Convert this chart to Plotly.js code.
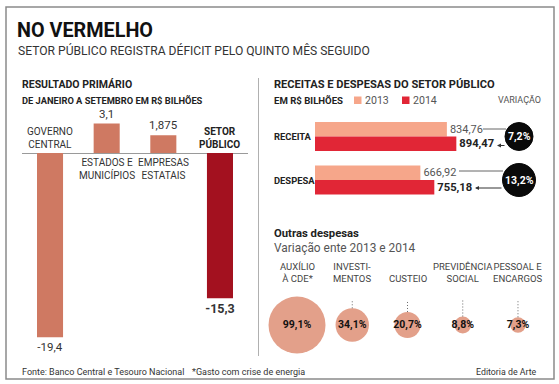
<!DOCTYPE html>
<html><head><meta charset="utf-8">
<script src="https://cdn.plot.ly/plotly-3.0.1.min.js"></script>
<style>html,body{margin:0;padding:0;background:#fff}#c{width:559px;height:384px}</style>
</head><body><div id="c"></div>
<script>
// ---------- DATA ----------
const resultadoCats = ['Governo Central', 'Estados e Municípios', 'Empresas Estatais', 'Setor Público'];
const resultadoLabels = ['GOVERNO<br>CENTRAL', 'ESTADOS E<br>MUNICÍPIOS', 'EMPRESAS<br>ESTATAIS', '<b>SETOR<br>PÚBLICO</b>'];
const resultadoVals = [-19.4, 3.1, 1.875, -15.3];

const rdCats = ['RECEITA', 'DESPESA'];
const rd2013 = [834.76, 666.92];
const rd2014 = [894.47, 755.18];
const variacao = [7.2, 13.2];

const outrasCats = ['Auxílio à CDE', 'Investimentos', 'Custeio', 'Previdência Social', 'Pessoal e Encargos'];
const outrasLabels = ['AUXÍLIO<br>À CDE*', 'INVESTI-<br>MENTOS', 'CUSTEIO', 'PREVIDÊNCIA<br>SOCIAL', 'PESSOAL E<br>ENCARGOS'];
const outrasVals = [99.1, 34.1, 20.7, 8.8, 7.3];

// ---------- HELPERS ----------
const W = 559, H = 384;
const px = x => x / W;
const py = y => 1 - y / H;
const fmt = v => String(v).replace('.', ',');
const F = 'Roboto, "Liberation Sans", sans-serif';
const DARK = '#222', TXT = '#333', GREY = '#555';

const cLight = '#cf7962', cSetor = '#a3111f';
const c2013 = '#f6a68a', c2014 = '#e12636';
const cBubble = '#e3a08a';

const SIZEREF = 0.061;
const bubbleR = v => Math.sqrt(v / (2 * SIZEREF));

// ---------- TRACES ----------
const traces = [];

traces.push({
  type: 'bar', x: resultadoCats, y: resultadoVals, xaxis: 'x', yaxis: 'y',
  width: 0.46,
  marker: { color: resultadoCats.map((c, i) => i === resultadoCats.length - 1 ? cSetor : cLight) },
  text: resultadoVals.map((v, i) => i === resultadoVals.length - 1 ? '<b>' + fmt(v) + '</b>' : fmt(v)),
  textposition: 'outside', constraintext: 'none', cliponaxis: false,
  textfont: { family: F, size: resultadoVals.map((v, i) => i === resultadoVals.length - 1 ? 12.5 : 11.5), color: TXT },
  hoverinfo: 'skip', showlegend: false
});

traces.push({
  type: 'bar', orientation: 'h', y: rdCats, x: rd2013, xaxis: 'x2', yaxis: 'y2',
  width: 0.333, offset: -0.333, marker: { color: c2013 },
  text: rd2013.map(fmt), textposition: 'outside', constraintext: 'none', cliponaxis: false,
  textfont: { family: F, size: 11, color: GREY }, hoverinfo: 'skip', showlegend: false
});
traces.push({
  type: 'bar', orientation: 'h', y: rdCats, x: rd2014, xaxis: 'x2', yaxis: 'y2',
  width: 0.333, offset: 0, marker: { color: c2014 },
  text: rd2014.map(v => '<b>' + fmt(v) + '</b>'), textposition: 'outside', constraintext: 'none', cliponaxis: false,
  textfont: { family: F, size: 11.2, color: DARK }, hoverinfo: 'skip', showlegend: false
});

traces.push({
  type: 'scatter', mode: 'markers+text', x: outrasCats, y: outrasCats.map(() => 0),
  xaxis: 'x4', yaxis: 'y4',
  marker: { size: outrasVals, sizemode: 'area', sizeref: SIZEREF, color: cBubble, line: { width: 0 }, opacity: 1 },
  text: outrasVals.map(v => '<b>' + fmt(v) + '%</b>'), textposition: 'middle center',
  textfont: { family: F, size: 10.5, color: '#111' }, cliponaxis: false,
  hoverinfo: 'skip', showlegend: false
});

// ---------- ANNOTATIONS & SHAPES ----------
const ann = [];
const shapes = [];
const A = (x, y, text, size, opts = {}) => ann.push(Object.assign({
  xref: 'paper', yref: 'paper', x: px(x), y: py(y), text, showarrow: false,
  xanchor: 'left', yanchor: 'middle', font: { family: F, size, color: TXT }
}, opts));

// border + divider
shapes.push({ type: 'rect', xref: 'paper', yref: 'paper', x0: px(6), x1: px(554), y0: py(7), y1: py(379), line: { color: '#8a8a8a', width: 1.5 } });
shapes.push({ type: 'line', xref: 'paper', yref: 'paper', x0: px(258.5), x1: px(258.5), y0: py(78), y1: py(356), line: { color: '#b0b0b0', width: 1 } });

// titles
A(15, 30.5, '<b>NO VERMELHO</b>', 19.8, { font: { family: F, size: 19.8, color: '#111' } });
A(16, 50.5, 'SETOR PÚBLICO REGISTRA DÉFICIT PELO QUINTO MÊS SEGUIDO', 12.1, { font: { family: F, size: 12.1, color: TXT } });

// left panel
A(20, 85, '<b>RESULTADO PRIMÁRIO</b>', 10.5, { font: { family: F, size: 10.5, color: DARK } });
A(20, 100, '<b>DE JANEIRO A SETEMBRO EM R$ BILHÕES</b>', 9.3, { font: { family: F, size: 9.3, color: DARK } });
resultadoCats.forEach((c, i) => {
  const neg = resultadoVals[i] < 0;
  ann.push({
    xref: 'x', yref: 'y', x: c, y: 0, text: resultadoLabels[i], showarrow: false,
    xanchor: 'center', yanchor: neg ? 'bottom' : 'top', yshift: neg ? 1 : -2,
    font: { family: F, size: 10, color: i === 3 ? DARK : TXT }
  });
});

// right panel
A(272, 85, '<b>RECEITAS E DESPESAS DO SETOR PÚBLICO</b>', 11.1, { font: { family: F, size: 11.1, color: DARK } });
A(272, 100, '<b>EM R$ BILHÕES</b>', 9.6, { font: { family: F, size: 9.6, color: DARK } });
shapes.push({ type: 'rect', xref: 'paper', yref: 'paper', x0: px(354), x1: px(361.5), y0: py(96.5), y1: py(104), fillcolor: c2013, line: { width: 0 } });
A(363, 100, '2013', 10.6, { font: { family: F, size: 10.6, color: GREY } });
shapes.push({ type: 'rect', xref: 'paper', yref: 'paper', x0: px(402), x1: px(409.5), y0: py(96.5), y1: py(104), fillcolor: c2014, line: { width: 0 } });
A(411, 100, '2014', 10.6, { font: { family: F, size: 10.6, color: GREY } });
A(543, 100, 'VARIAÇÃO', 9, { xanchor: 'right', font: { family: F, size: 9, color: GREY } });

rdCats.forEach((c, i) => {
  ann.push({ xref: 'paper', yref: 'y2', x: px(272), y: i, text: '<b>' + c + '</b>', showarrow: false,
    xanchor: 'left', yanchor: 'middle', font: { family: F, size: 9.4, color: DARK } });
});

// variation circles
const circR = [14, 16.5];
variacao.forEach((v, i) => {
  shapes.push({ type: 'circle', xref: 'paper', yref: 'y2', xsizemode: 'pixel', ysizemode: 'pixel',
    xanchor: px(519), yanchor: i, x0: -circR[i], x1: circR[i], y0: -circR[i], y1: circR[i],
    fillcolor: '#0a0a0a', line: { color: '#0a0a0a', width: 1 } });
  ann.push({ xref: 'paper', yref: 'y2', x: px(519), y: i, text: '<b>' + fmt(v) + '%</b>', showarrow: false,
    xanchor: 'center', yanchor: 'middle', font: { family: F, size: 10.5, color: '#fff' } });
});

// connector lines (2013 label -> circle) and arrows (circle -> 2014 label)
shapes.push({ type: 'line', xref: 'paper', yref: 'paper', x0: px(483), x1: px(506), y0: py(129), y1: py(129), line: { color: '#666', width: 1 } });
shapes.push({ type: 'line', xref: 'paper', yref: 'paper', x0: px(459), x1: px(503), y0: py(171), y1: py(171), line: { color: '#666', width: 1 } });
ann.push({ xref: 'paper', yref: 'paper', x: px(497), y: py(145.5), ax: 9, ay: 0, text: '', showarrow: true,
  arrowhead: 2, arrowsize: 0.8, arrowwidth: 1, arrowcolor: '#333' });
ann.push({ xref: 'paper', yref: 'paper', x: px(475), y: py(188), ax: 28, ay: 0, text: '', showarrow: true,
  arrowhead: 2, arrowsize: 0.8, arrowwidth: 1, arrowcolor: '#333' });

// outras despesas
A(272, 233, '<b>Outras despesas</b>', 11.3, { font: { family: F, size: 11.3, color: DARK } });
A(272, 248, 'Variação ente 2013 e 2014', 11.9, { font: { family: F, size: 11.9, color: GREY } });
outrasCats.forEach((c, i) => {
  ann.push({ xref: 'x4', yref: 'paper', x: c, y: py(286), text: outrasLabels[i], showarrow: false,
    xanchor: 'center', yanchor: 'bottom', font: { family: F, size: 9.5, color: '#444' } });
  shapes.push({ type: 'line', xref: 'x4', yref: 'y4', x0: i, x1: i, yanchor: 0, ysizemode: 'pixel',
    y0: bubbleR(outrasVals[i]), y1: 38, line: { color: '#6a6a6a', width: 1, dash: '1px,2px' } });
});

// footer
A(20, 372, 'Fonte: Banco Central e Tesouro Nacional', 9, { font: { family: F, size: 9, color: TXT } });
A(190, 372, '*Gasto com crise de energia', 9, { font: { family: F, size: 9, color: TXT } });
A(539, 372, 'Editoria de Arte', 8.8, { xanchor: 'right', font: { family: F, size: 8.8, color: TXT } });

// ---------- LAYOUT ----------
const hid = { showgrid: false, zeroline: false, showticklabels: false, showline: false, ticks: '', fixedrange: true };
const layout = {
  width: W, height: H, margin: { l: 0, r: 0, t: 0, b: 0 },
  paper_bgcolor: '#fff', plot_bgcolor: 'rgba(0,0,0,0)',
  barmode: 'overlay', showlegend: false, separators: ',.',
  font: { family: F },
  xaxis: Object.assign({}, hid, { domain: [px(21.7), px(248.3)], type: 'category' }),
  yaxis: Object.assign({}, hid, { domain: [py(343), py(105.5)], range: [-20, 5], zeroline: true, zerolinecolor: '#9a9a9a', zerolinewidth: 1 }),
  xaxis2: Object.assign({}, hid, { domain: [px(315), px(473)], range: [0, 1000], anchor: 'y2' }),
  yaxis2: Object.assign({}, hid, { domain: [py(201.75), py(114.75)], type: 'category', range: [1.5, -0.5], anchor: 'x2' }),
  xaxis4: Object.assign({}, hid, { domain: [px(269.4), px(545.6)], type: 'category', range: [-0.5, 4.5], anchor: 'y4' }),
  yaxis4: Object.assign({}, hid, { domain: [py(350), py(300)], range: [-1, 1], anchor: 'x4' }),
  annotations: ann, shapes: shapes
};

Plotly.newPlot('c', traces, layout, { staticPlot: true, displayModeBar: false });
</script>
</body></html>
